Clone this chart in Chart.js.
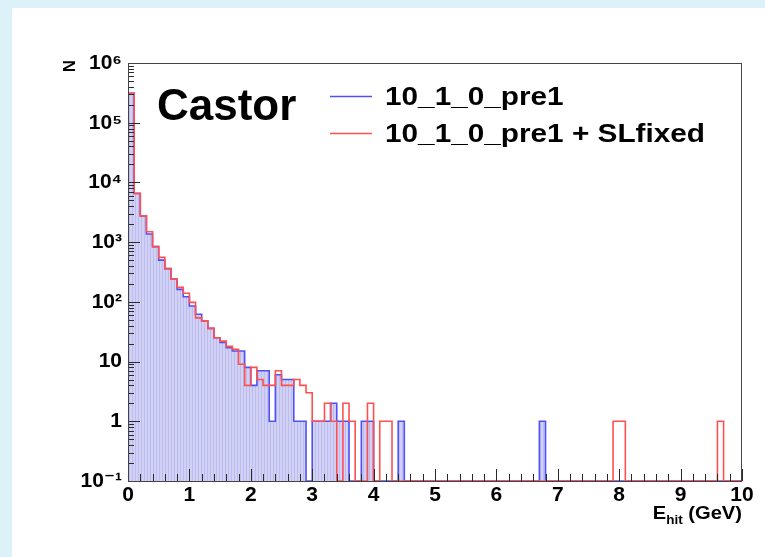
<!DOCTYPE html>
<html>
<head>
<meta charset="utf-8">
<script src="https://cdn.jsdelivr.net/npm/chart.js@4.4.1/dist/chart.umd.min.js"></script>
<style>
html,body{margin:0;padding:0;background:#dcf2f8;}
canvas{display:block;}
</style>
</head>
<body>
<canvas id="c" width="765" height="557"></canvas>
<script>
// ---------- data ----------
const binEdges = [0.0,0.1,0.2,0.3,0.4,0.5,0.6,0.7,0.8,0.9,1.0,1.1,1.2,1.3,1.4,1.5,1.6,1.7,1.8,1.9,
  2.0,2.1,2.2,2.3,2.4,2.5,2.6,2.7,2.8,2.9,3.0,3.1,3.2,3.3,3.4,3.5,3.6,3.7,3.8,3.9,
  4.0,4.1,4.2,4.3,4.4,4.5,4.6,4.7,4.8,4.9,5.0,5.1,5.2,5.3,5.4,5.5,5.6,5.7,5.8,5.9,
  6.0,6.1,6.2,6.3,6.4,6.5,6.6,6.7,6.8,6.9,7.0,7.1,7.2,7.3,7.4,7.5,7.6,7.7,7.8,7.9,
  8.0,8.1,8.2,8.3,8.4,8.5,8.6,8.7,8.8,8.9,9.0,9.1,9.2,9.3,9.4,9.5,9.6,9.7,9.8,9.9,10.0];

const seriesNames = ['10_1_0_pre1', '10_1_0_pre1 + SLfixed'];

const countsPre1 = [310000,6600,2750,1370,840,500,360,240,162,122,
  85,62,48,36,25,21,17,15,15,8,
  4,7,7,1,6,5,5,1,1,0,
  1,1,1,2,1,1,0,0,1,1,
  0,0,0,0,1,0,0,0,0,0,
  0,0,0,0,0,0,0,0,0,0,
  0,0,0,0,0,0,0,1,0,0,
  0,0,0,0,0,0,0,0,0,0,
  0,0,0,0,0,0,0,0,0,0,
  0,0,0,0,0,0,0,0,0,0];

const countsSLfixed = [310000,6500,2750,1490,840,556,360,240,175,139,
  98,54,48,36,25,22,18,16,9,4,
  8,5,4,4,7,4,4,5,4,3,
  1,1,2,1,0,2,1,0,0,2,
  0,1,1,0,0,0,0,0,0,0,
  0,0,0,0,0,0,0,0,0,0,
  0,0,0,0,0,0,0,0,0,0,
  0,0,0,0,0,0,0,0,0,1,
  1,0,0,0,0,0,0,0,0,0,
  0,0,0,0,0,0,1,0,0,0];

const xTickLabels = ['0','1','2','3','4','5','6','7','8','9','10'];
const yTickValues = [0.1, 1, 10, 100, 1000, 10000, 100000, 1000000];
const yTickLabels = ['10\u207B\u00B9','1','10','10\u00B2','10\u00B3','10\u2074','10\u2075','10\u2076'];

const yMin = 0.1, yMax = 1000000;

// ---------- build step points ----------
function toSteps(counts){
  const pts = [];
  for (let i = 0; i < counts.length; i++) {
    pts.push({x: binEdges[i], y: counts[i] > 0 ? counts[i] : yMin});
  }
  const last = counts[counts.length-1];
  pts.push({x: binEdges[counts.length], y: last > 0 ? last : yMin});
  return pts;
}

const FONT = "'Liberation Sans', Arial, Helvetica, 'DejaVu Sans', sans-serif";

const canvas = document.getElementById('c');
const ctx = canvas.getContext('2d');

// fill pattern (light violet with fine vertical hatching)
const pc = document.createElement('canvas');
pc.width = 3; pc.height = 4;
const pctx = pc.getContext('2d');
pctx.fillStyle = 'rgb(209,209,246)';
pctx.fillRect(0,0,3,4);
pctx.fillStyle = 'rgb(188,188,238)';
pctx.fillRect(0,0,1,4);
const fillPattern = ctx.createPattern(pc, 'repeat');

function wideText(c, txt, x, y, sx){
  c.save();
  c.translate(x, y);
  c.scale(sx, 1);
  c.fillText(txt, 0, 0);
  c.restore();
}

const decorPlugin = {
  id: 'decor',
  beforeDraw(chart){
    const c = chart.ctx;
    c.save();
    c.fillStyle = '#dcf2f8';
    c.fillRect(0,0,chart.width,chart.height);
    c.fillStyle = '#ffffff';
    c.fillRect(12,8,chart.width-12,chart.height-8);
    c.restore();
  },
  afterDatasetsDraw(chart){
    const c = chart.ctx;
    const a = chart.chartArea;
    const xs = chart.scales.x, ys = chart.scales.y;
    c.save();
    c.strokeStyle = '#2a2a2a';
    c.lineWidth = 1;
    for (let k = 0; k <= 50; k++) {
      const v = k * 0.2;
      const px = Math.round(xs.getPixelForValue(v)) + 0.5;
      const len = (k % 5 === 0) ? 12 : 7;
      c.beginPath(); c.moveTo(px, a.bottom); c.lineTo(px, a.bottom - len); c.stroke();
    }
    for (let d = -1; d <= 5; d++) {
      for (let m = 1; m <= 9; m++) {
        const v = m * Math.pow(10, d);
        const py = Math.round(ys.getPixelForValue(v)) + 0.5;
        const len = (m === 1) ? 12 : 6;
        c.beginPath(); c.moveTo(a.left, py); c.lineTo(a.left + len, py); c.stroke();
      }
    }
    c.strokeStyle = '#444';
    c.strokeRect(a.left + 0.5, a.top + 0.5, a.right - a.left - 1, a.bottom - a.top);
    c.restore();
  },
  afterDraw(chart){
    const c = chart.ctx;
    c.save();
    c.fillStyle = '#000';
    c.textBaseline = 'alphabetic';
    c.textAlign = 'left';
    c.font = 'bold 44px ' + FONT;
    c.fillText('Castor', 157, 120);
    const ds = chart.data.datasets;
    const rows = [{y: 96, i: 0}, {y: 133, i: 1}];
    rows.forEach(r => {
      c.strokeStyle = ds[r.i].borderColor;
      c.lineWidth = 1.5;
      c.beginPath(); c.moveTo(330, r.y + 0.5); c.lineTo(372, r.y + 0.5); c.stroke();
      c.font = 'bold 25px ' + FONT;
      c.fillStyle = '#000';
      wideText(c, ds[r.i].label, 385, r.y + 9, 1.19);
    });
    c.save();
    c.translate(75, 66);
    c.rotate(-Math.PI/2);
    c.font = 'bold 17px ' + FONT;
    c.textAlign = 'center';
    c.fillText('N', 0, 0);
    c.restore();
    const sx = 1.12;
    const right = chart.chartArea.right;
    c.font = 'bold 18px ' + FONT;
    const wG = c.measureText(' (GeV)').width * sx;
    c.font = 'bold 12px ' + FONT;
    const wH = c.measureText('hit').width * sx;
    c.font = 'bold 18px ' + FONT;
    const wE = c.measureText('E').width * sx;
    let x0 = right - wG - wH - wE;
    wideText(c, 'E', x0, 519, sx);
    c.font = 'bold 12px ' + FONT;
    wideText(c, 'hit', x0 + wE, 524, sx);
    c.font = 'bold 18px ' + FONT;
    wideText(c, ' (GeV)', x0 + wE + wH, 519, sx);
    c.restore();
  }
};

new Chart(ctx, {
  type: 'line',
  data: {
    datasets: [
      {
        label: seriesNames[0],
        data: toSteps(countsPre1),
        borderColor: 'rgb(80,80,250)',
        borderWidth: 1.6,
        stepped: 'before',
        fill: 'start',
        backgroundColor: fillPattern,
        pointRadius: 0,
        order: 2
      },
      {
        label: seriesNames[1],
        data: toSteps(countsSLfixed),
        borderColor: 'rgb(255,80,80)',
        borderWidth: 1.6,
        stepped: 'before',
        fill: false,
        pointRadius: 0,
        order: 1
      }
    ]
  },
  options: {
    responsive: false,
    animation: false,
    events: [],
    layout: { padding: { left: 0, top: 63, right: 23, bottom: 36 } },
    plugins: { legend: { display: false }, tooltip: { enabled: false } },
    scales: {
      x: {
        type: 'linear',
        min: 0, max: 10,
        grid: { display: false, drawTicks: false },
        border: { display: false },
        afterFit(scale){ scale.height = 40; },
        afterBuildTicks(scale){ scale.ticks = xTickLabels.map((l, i) => ({value: i})); },
        ticks: {
          padding: 2,
          color: '#000',
          font: { family: FONT, size: 21, weight: 'bold' },
          maxRotation: 0,
          autoSkip: false,
          callback: (v, i) => xTickLabels[i]
        }
      },
      y: {
        type: 'logarithmic',
        min: yMin, max: yMax,
        grid: { display: false, drawTicks: false },
        border: { display: false },
        afterFit(scale){ scale.width = 128; },
        afterBuildTicks(scale){ scale.ticks = yTickValues.map(v => ({value: v})); },
        ticks: {
          padding: 6,
          color: '#000',
          font: { family: FONT, size: 21, weight: 'bold' },
          autoSkip: false,
          callback: (v, i) => yTickLabels[i]
        }
      }
    }
  },
  plugins: [decorPlugin]
});
</script>
</body>
</html>
